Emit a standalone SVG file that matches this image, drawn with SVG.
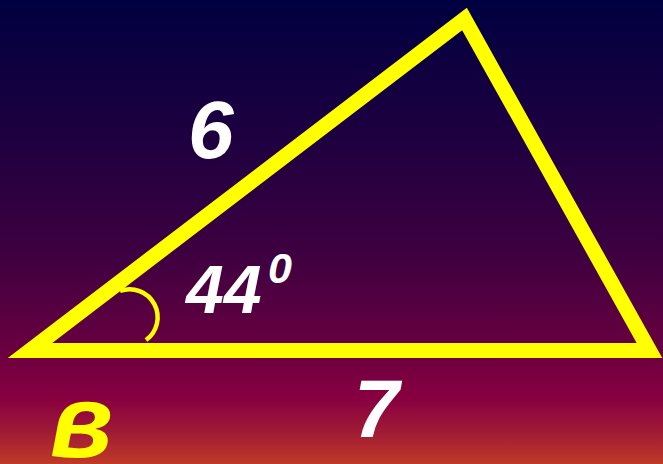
<svg xmlns="http://www.w3.org/2000/svg" width="663" height="464" viewBox="0 0 663 464">
<defs>
<linearGradient id="bg" x1="0" y1="0" x2="0" y2="1">
<stop offset="0" stop-color="#000040"/>
<stop offset="0.3" stop-color="#1e0040"/>
<stop offset="0.55" stop-color="#3e0040"/>
<stop offset="0.75" stop-color="#680040"/>
<stop offset="0.86" stop-color="#880040"/>
<stop offset="0.93" stop-color="#a01a36"/>
<stop offset="1" stop-color="#c03a26"/>
</linearGradient>
<style>
.lbl{font-family:"Liberation Sans",Arial,sans-serif;font-weight:bold;font-style:italic;fill:#ffffff}
.edge{fill:none;stroke:#ffff00;stroke-width:15;stroke-linejoin:miter;stroke-miterlimit:10}
</style>
</defs>
<rect x="0" y="0" width="663" height="464" fill="url(#bg)"/>
<g id="connectors">
<polygon id="triangle" class="edge" points="30,350.5 464.5,19 649.5,350.5"/>
<path id="angle-arc" d="M120,291 A28,28 0 0 1 146,340" fill="none" stroke="#ffff00" stroke-width="4.5"/>
</g>
<g id="label-6"><text class="lbl" x="188" y="158" font-size="82">6</text></g>
<g id="label-44"><text class="lbl" x="186" y="313" font-size="68">44</text><text class="lbl" x="268" y="283" font-size="43">0</text></g>
<g id="label-7"><text class="lbl" x="354" y="437" font-size="81">7</text></g>
<g id="label-b"><text class="lbl" x="50" y="457" font-size="104" style="fill:#ffff00">в</text></g>
</svg>
